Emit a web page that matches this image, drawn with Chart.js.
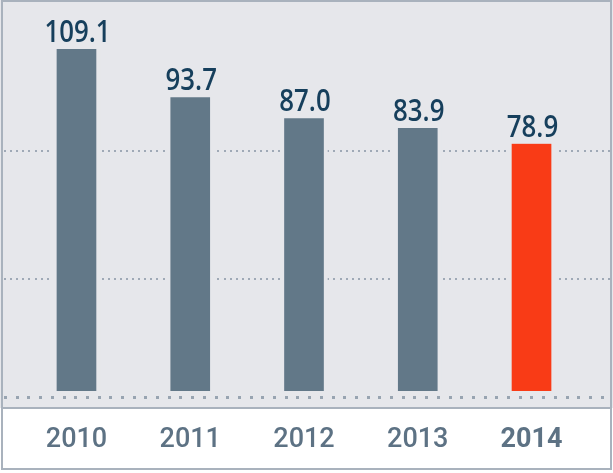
<!DOCTYPE html>
<html>
<head>
<meta charset="utf-8">
<script src="https://cdn.jsdelivr.net/npm/chart.js@4.4.0/dist/chart.umd.min.js"></script>
<style>
  html, body { margin: 0; padding: 0; background: #ffffff; }
  #wrap { width: 613px; height: 473px; }
</style>
</head>
<body>
<div id="wrap"><canvas id="c" width="613" height="473"></canvas></div>
<script>
const categories = ['2010', '2011', '2012', '2013', '2014'];
const values = [109.1, 93.7, 87.0, 83.9, 78.9];
const gridValues = [35.8, 76.6];
const highlightYear = '2014';

const slate = '#627888';
const red = '#f93b16';
const panelBg = '#e6e7eb';
const frameColor = '#a9b2bd';

const framePlugin = {
  id: 'frame',
  beforeDraw(chart) {
    const ctx = chart.ctx;
    const W = chart.width, H = chart.height;
    ctx.save();
    ctx.fillStyle = '#ffffff';
    ctx.fillRect(0, 0, W, H);
    ctx.fillStyle = panelBg;
    ctx.fillRect(0, 0, W, 408);
    ctx.strokeStyle = frameColor;
    ctx.lineWidth = 2;
    ctx.strokeRect(2, 1, W - 4, 468);
    ctx.beginPath();
    ctx.moveTo(2, 408);
    ctx.lineTo(W - 2, 408);
    ctx.stroke();
    ctx.restore();
  },
  beforeDatasetsDraw(chart) {
    const ctx = chart.ctx;
    const y = chart.scales.y;
    ctx.save();
    ctx.fillStyle = '#9fa9b6';
    gridValues.forEach(v => {
      const py = Math.round(y.getPixelForValue(v));
      for (let x = 4; x < chart.width - 4; x += 6.1) {
        ctx.fillRect(Math.round(x), py - 1, 2, 2);
      }
    });
    ctx.fillStyle = '#98a4b1';
    const by = chart.chartArea.bottom;
    for (let x = 4; x < chart.width - 6; x += 11.7) {
      ctx.fillRect(Math.round(x), by - 1, 3, 3);
    }
    ctx.restore();
  },
  afterDatasetsDraw(chart) {
    const ctx = chart.ctx;
    const meta = chart.getDatasetMeta(0);
    ctx.save();
    ctx.fillStyle = '#163f5c';
    ctx.font = '600 30px "Open Sans", sans-serif';
    ctx.textAlign = 'center';
    ctx.textBaseline = 'alphabetic';
    meta.data.forEach((bar, i) => {
      ctx.save();
      ctx.translate(bar.x + 1, bar.y - 7);
      ctx.scale(0.86, 1);
      ctx.fillText(values[i].toFixed(1), 0, 0);
      ctx.restore();
    });
    ctx.restore();
  }
};

new Chart(document.getElementById('c'), {
  type: 'bar',
  data: {
    labels: categories,
    datasets: [{
      data: values,
      backgroundColor: categories.map(c => c === highlightYear ? red : slate),
      borderColor: panelBg,
      borderWidth: { left: 4, right: 4, top: 0, bottom: 0 },
      borderSkipped: false,
      barThickness: 47
    }]
  },
  options: {
    responsive: false,
    animation: false,
    devicePixelRatio: 1,
    layout: { padding: { left: 19.6, right: 24.6, top: 0, bottom: 0 } },
    plugins: { legend: { display: false }, tooltip: { enabled: false } },
    scales: {
      x: {
        grid: { display: false, drawTicks: false },
        border: { display: false },
        afterFit(scale) { scale.height = 76; },
        ticks: {
          padding: 27,
          color: '#5d7284',
          font: ctx => ({
            family: 'Roboto, "Liberation Sans", sans-serif',
            size: 27,
            weight: categories[ctx.index] === highlightYear ? 'bold' : '500'
          })
        }
      },
      y: {
        display: false,
        min: -1.914,
        max: 124.73
      }
    }
  },
  plugins: [framePlugin]
});
</script>
</body>
</html>
